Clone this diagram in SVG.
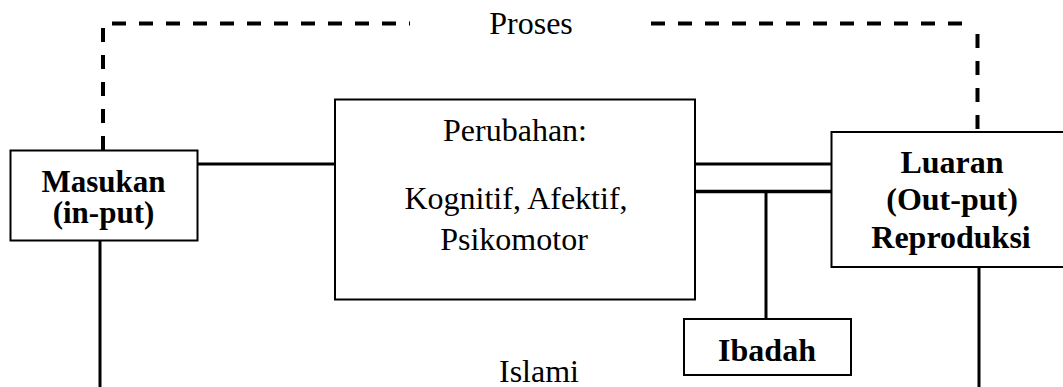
<svg xmlns="http://www.w3.org/2000/svg" width="1063" height="387" viewBox="0 0 1063 387">
<style>
  .box { fill: #fff; stroke: #000; stroke-width: 2; }
  .conn { fill: none; stroke: #000; stroke-width: 3; }
  .dash { fill: none; stroke: #000; stroke-width: 4; stroke-dasharray: 14 13; }
  .t { font-family: "Liberation Serif", "Times New Roman", serif; font-size: 32px; fill: #000; text-anchor: middle; }
  .b { font-weight: bold; }
</style>
<rect width="1063" height="387" fill="#fff"/>
<g id="connectors">
  <path class="dash" d="M103,150 V25"/>
  <path class="dash" d="M112,23.5 H410"/>
  <path class="dash" d="M651,23.5 H975"/>
  <path class="dash" d="M977.5,34 V132"/>
  <path class="conn" d="M197,164 H335"/>
  <path class="conn" d="M695,164 H831"/>
  <path class="conn" style="stroke-width:3.5" d="M695,191.5 H831"/>
  <path class="conn" d="M766,191.5 V319"/>
  <path class="conn" d="M100,240 V388.4 H433"/>
  <path class="conn" d="M654,388.4 H979 V267"/>
</g>
<g id="label-proses"><text class="t" x="531" y="34">Proses</text></g>
<g id="label-islami"><text class="t" x="539" y="382">Islami</text></g>
<g id="node-masukan">
  <rect class="box" x="10.5" y="150.5" width="187" height="90"/>
  <text class="t b" x="103.5" y="191.5" style="font-size:31px">Masukan</text>
  <text class="t b" x="103.5" y="223" style="font-size:31px">(in-put)</text>
</g>
<g id="node-perubahan">
  <rect class="box" x="335" y="99.5" width="360" height="200"/>
  <text class="t" x="515" y="140.5">Perubahan:</text>
  <text class="t" x="516" y="209">Kognitif, Afektif,</text>
  <text class="t" x="514" y="250">Psikomotor</text>
</g>
<g id="node-luaran">
  <rect class="box" x="831.5" y="132" width="250" height="135"/>
  <text class="t b" x="952" y="173">Luaran</text>
  <text class="t b" x="952" y="209.5">(Out-put)</text>
  <text class="t b" x="951" y="247.5">Reproduksi</text>
</g>
<g id="node-ibadah">
  <rect class="box" x="684" y="319" width="167" height="56"/>
  <text class="t b" x="767" y="361">Ibadah</text>
</g>
</svg>
